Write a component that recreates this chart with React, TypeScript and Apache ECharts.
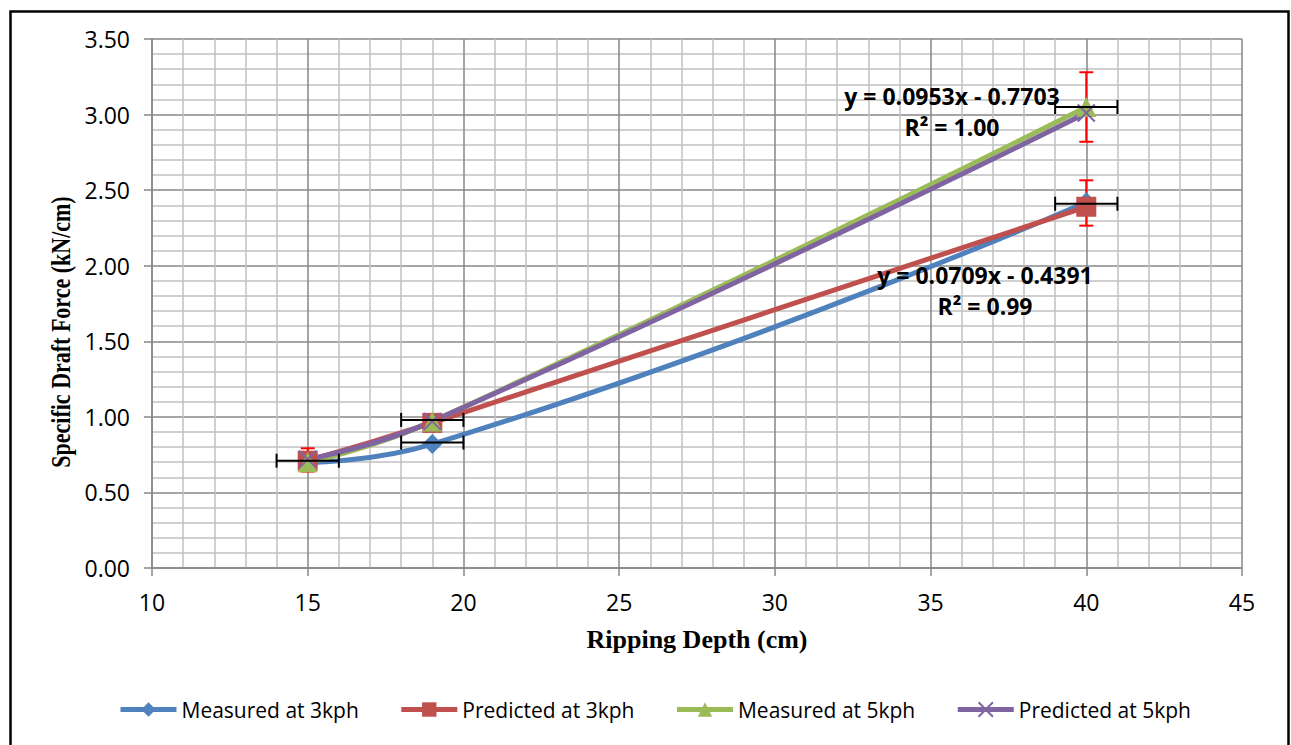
import React, { useEffect, useRef } from "react";
import * as echarts from "echarts";

const depth = [15, 19, 40];
const measured3 = [0.7, 0.82, 2.42];
const predicted3 = [0.71, 0.96, 2.39];
const measured5 = [0.7, 0.97, 3.05];
const predicted5 = [0.72, 0.97, 3.01];

// horizontal error bars: [x, y, xError]
const xErrorBars = [
  [15, 0.71, 1],
  [19, 0.83, 1],
  [19, 0.98, 1],
  [40, 2.41, 1],
  [40, 3.05, 1],
];
// vertical error bars: [x, y, yError]
const yErrorBars = [
  [15, 0.715, 0.077],
  [40, 2.415, 0.15],
  [40, 3.05, 0.23],
];

const seriesNames = ["Measured at 3kph", "Predicted at 3kph", "Measured at 5kph", "Predicted at 5kph"];
const trendLabel5 = "y = 0.0953x - 0.7703\nR² = 1.00";
const trendLabel3 = "y = 0.0709x - 0.4391\nR² = 0.99";
const yTitle = "Specific Draft Force (kN/cm)";
const xTitle = "Ripping Depth (cm)";

const pair = (ys: number[]) => depth.map((x, i) => [x, ys[i]]);

export default function App() {
  const ref = useRef<HTMLDivElement>(null);
  useEffect(() => {
    document.body.style.margin = "0";
    const chart = echarts.init(ref.current!, undefined, { renderer: "svg" });
    const tickFont = { fontFamily: "Open Sans", fontSize: 23, color: "#000" };
    const lineSeries = (name: string, ys: number[], color: string, symbol: string, size: number) => ({
      name,
      type: "line",
      data: pair(ys),
      smooth: 0.5,
      symbol,
      symbolSize: size,
      lineStyle: { color, width: 5 },
      itemStyle: { color },
      z: 3,
    });
    const errRender = (horizontal: boolean, color: string) => (params: any, api: any) => {
      const x = api.value(0);
      const y = api.value(1);
      const e = api.value(2);
      const p1 = horizontal ? api.coord([x - e, y]) : api.coord([x, y - e]);
      const p2 = horizontal ? api.coord([x + e, y]) : api.coord([x, y + e]);
      const cap = 7;
      const style = { stroke: color, lineWidth: 2 };
      const capLine = (p: number[]) =>
        horizontal
          ? { type: "line", shape: { x1: p[0], y1: p[1] - cap, x2: p[0], y2: p[1] + cap }, style }
          : { type: "line", shape: { x1: p[0] - cap, y1: p[1], x2: p[0] + cap, y2: p[1] }, style };
      return {
        type: "group",
        children: [
          { type: "line", shape: { x1: p1[0], y1: p1[1], x2: p2[0], y2: p2[1] }, style },
          capLine(p1),
          capLine(p2),
        ],
      };
    };
    const eqStyle = {
      fontFamily: "Open Sans",
      fontWeight: "bold",
      fontSize: 23,
      lineHeight: 31,
      align: "center",
      verticalAlign: "middle",
      fill: "#000",
    };
    chart.setOption({
      animation: false,
      backgroundColor: "#fff",
      grid: { left: 152, right: 49, top: 39, bottom: 177 },
      xAxis: {
        type: "value",
        min: 10,
        max: 45,
        interval: 5,
        name: xTitle,
        nameLocation: "middle",
        nameGap: 58,
        nameTextStyle: { fontFamily: "Liberation Serif", fontWeight: "bold", fontSize: 26, color: "#000" },
        axisLine: { show: true, lineStyle: { color: "#878787", width: 1.5 } },
        axisTick: { show: true, length: 8, lineStyle: { color: "#878787", width: 1.5 } },
        axisLabel: { ...tickFont, margin: 22 },
        splitLine: { show: true, lineStyle: { color: "#878787", width: 1.5 } },
        minorTick: { show: false, splitNumber: 5 },
        minorSplitLine: { show: true, lineStyle: { color: "#c0c0c0", width: 1.5 } },
      },
      yAxis: {
        type: "value",
        min: 0,
        max: 3.5,
        interval: 0.5,
        axisLine: { show: true, lineStyle: { color: "#878787", width: 1.5 } },
        axisTick: { show: true, length: 8, lineStyle: { color: "#878787", width: 1.5 } },
        axisLabel: { ...tickFont, margin: 22, formatter: (v: number) => v.toFixed(2) },
        splitLine: { show: true, lineStyle: { color: "#878787", width: 1.5 } },
        minorTick: { show: false, splitNumber: 5 },
        minorSplitLine: { show: true, lineStyle: { color: "#c0c0c0", width: 1.5 } },
      },
      legend: {
        data: seriesNames,
        bottom: 20,
        left: 113,
        itemWidth: 56,
        itemHeight: 18,
        itemGap: 40,
        lineStyle: { width: 5 },
        textStyle: { fontFamily: "Open Sans", fontSize: 21, color: "#000" },
      },
      series: [
        {
          name: "xerr",
          type: "custom",
          data: xErrorBars,
          renderItem: errRender(true, "#000"),
          encode: { x: 0, y: 1 },
          z: 4,
          silent: true,
        },
        lineSeries(seriesNames[0], measured3, "#4F81BD", "diamond", 20),
        lineSeries(seriesNames[1], predicted3, "#C0504D", "rect", 20),
        lineSeries(seriesNames[2], measured5, "#9BBB59", "triangle", 20),
        {
          ...lineSeries(seriesNames[3], predicted5, "#8064A2", "path://M0 0L10 10M10 0L0 10", 17),
          itemStyle: { color: "#8064A2", borderColor: "#8064A2", borderWidth: 2 },
        },
        {
          name: "yerr",
          type: "custom",
          data: yErrorBars,
          renderItem: errRender(false, "#ff0000"),
          encode: { x: 0, y: 1 },
          z: 2,
          silent: true,
        },
      ],
      graphic: [
        { type: "text", x: 952, y: 111, style: { text: trendLabel5, ...eqStyle }, z: 10 },
        { type: "text", x: 985, y: 290, style: { text: trendLabel3, ...eqStyle }, z: 10 },
        {
          type: "text",
          x: 61,
          y: 332,
          rotation: Math.PI / 2,
          scaleY: 1.25,
          style: {
            text: yTitle,
            fontFamily: "Liberation Serif",
            fontWeight: "bold",
            fontSize: 22,
            align: "center",
            verticalAlign: "middle",
            fill: "#000",
          },
        },
        {
          type: "rect",
          left: 8,
          top: 9,
          shape: { width: 1278, height: 800 },
          style: { fill: "none", stroke: "#000", lineWidth: 2.5 },
          silent: true,
        },
      ],
    });
    return () => chart.dispose();
  }, []);
  return <div ref={ref} style={{ width: 1291, height: 745 }} />;
}
